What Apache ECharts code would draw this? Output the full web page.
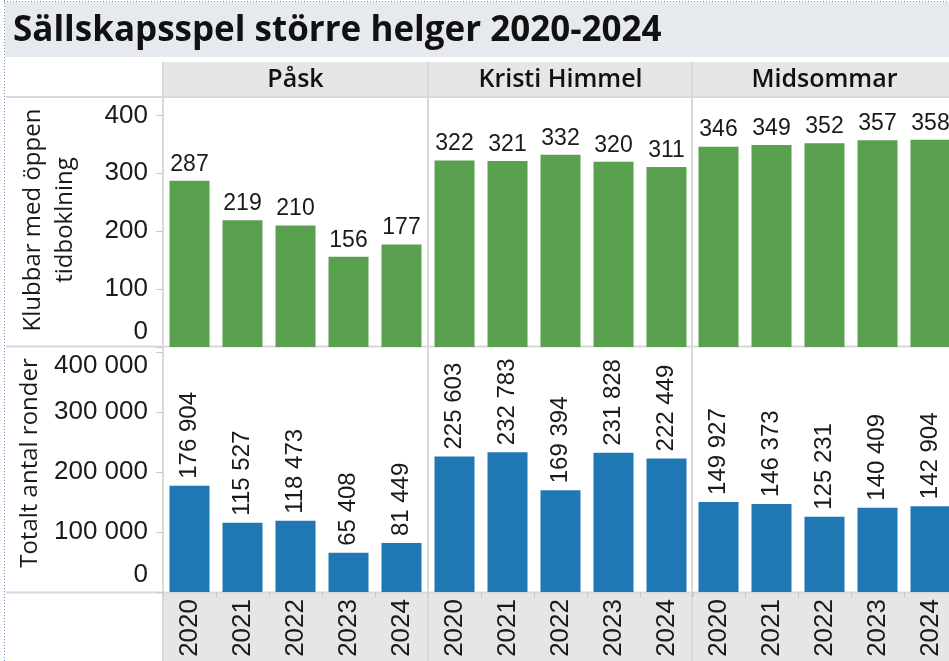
<!DOCTYPE html>
<html><head><meta charset="utf-8">
<script src="https://cdn.jsdelivr.net/npm/echarts@6/dist/echarts.min.js"></script>
<style>html,body{margin:0;padding:0;background:#fff}#c{width:949px;height:661px}</style>
</head><body><div id="c"></div>
<script>
const chartTitle = 'Sällskapsspel större helger 2020-2024';
const holidays = ['Påsk', 'Kristi Himmel', 'Midsommar'];
const years = ['2020', '2021', '2022', '2023', '2024'];
const measureNames = ['Klubbar med öppen\ntidboklning', 'Totalt antal ronder'];
const klubbarPask = [287, 219, 210, 156, 177];
const klubbarKristi = [322, 321, 332, 320, 311];
const klubbarMidsommar = [346, 349, 352, 357, 358];
const ronderPask = [176904, 115527, 118473, 65408, 81449];
const ronderKristi = [225603, 232783, 169394, 231828, 222449];
const ronderMidsommar = [149927, 146373, 125231, 140409, 142904];
const klubbarTicks = [0, 100, 200, 300, 400];
const ronderTicks = [0, 100000, 200000, 300000, 400000];

const rows = [
  { data: [klubbarPask, klubbarKristi, klubbarMidsommar], ticks: klubbarTicks, max: 430, color: '#59a14f' },
  { data: [ronderPask, ronderKristi, ronderMidsommar], ticks: ronderTicks, max: 408000, color: '#1f77b4' }
];

const colLeft = [163, 428, 692];
const colW = 265;
const rowTop = [98, 347];
const rowH = [249, 245];
const FONT = '"Liberation Sans", Arial, sans-serif';
const SANS = '"Open Sans", sans-serif';
const TXT = '#1a1a1a';

function fmt(v) { return String(v).replace(/\B(?=(\d{3})+(?!\d))/g, ' '); }

const grid = [], xAxis = [], yAxis = [], series = [];
rows.forEach((row, r) => {
  row.data.forEach((vals, c) => {
    const i = r * 3 + c;
    grid.push({ left: colLeft[c], top: rowTop[r], width: colW, height: rowH[r], containLabel: false, outerBoundsMode: 'none' });
    xAxis.push({
      type: 'category', gridIndex: i, data: years, z: 10,
      axisLine: { show: false },
      axisTick: { show: r === 1, length: 5, lineStyle: { color: '#c8c8c8' } },
      axisLabel: { show: r === 1, rotate: 90, interval: 0, fontSize: 26, margin: 7, color: TXT, fontFamily: FONT }
    });
    const lastTick = row.ticks[row.ticks.length - 1];
    yAxis.push({
      type: 'value', gridIndex: i, min: 0, max: row.max, z: 10,
      splitLine: { show: false }, axisLine: { show: false },
      axisTick: { show: c === 0, length: 7, customValues: row.ticks, lineStyle: { color: '#c8c8c8' } },
      axisLabel: {
        show: c === 0, customValues: row.ticks, margin: 15, fontSize: 26, color: TXT, fontFamily: FONT,
        formatter: v => v === 0 ? '{z|0}' : (v === lastTick && r === 1 ? '{t|' + fmt(v) + '}' : fmt(v)),
        rich: {
          z: { fontSize: 26, color: TXT, fontFamily: FONT, padding: r === 0 ? [0, 0, 30, 0] : [0, 0, 34, 0] },
          t: { fontSize: 26, color: TXT, fontFamily: FONT, padding: [28, 0, 0, 0] }
        }
      }
    });
    series.push({
      type: 'bar', xAxisIndex: i, yAxisIndex: i, data: vals, barWidth: 40,
      itemStyle: { color: row.color },
      label: r === 0
        ? { show: true, position: 'top', distance: 5, fontSize: 23, color: TXT, fontFamily: FONT, formatter: p => fmt(p.value) }
        : { show: true, position: 'top', rotate: 90, align: 'left', verticalAlign: 'middle', distance: 7, fontSize: 24, color: TXT, fontFamily: FONT, formatter: p => fmt(p.value) }
    });
  });
});

const lineC = '#d9d9d9';
const graphic = [
  { type: 'rect', z: -5, shape: { x: 5, y: 2, width: 944, height: 55 }, style: { fill: '#e6eaee' } },
  { type: 'line', z: 50, shape: { x1: 4.5, y1: 0, x2: 4.5, y2: 661 }, style: { stroke: '#6f95c8', lineWidth: 1, lineDash: [1, 2] } },
  { type: 'line', z: 50, shape: { x1: 4, y1: 1.5, x2: 949, y2: 1.5 }, style: { stroke: '#6f95c8', lineWidth: 1, lineDash: [1, 2] } },
  { type: 'text', z: 5, x: 13, y: 31, style: { text: chartTitle, font: 'bold 35px ' + SANS, fill: '#111', verticalAlign: 'middle' } },
  { type: 'rect', z: -5, shape: { x: 163, y: 62, width: 786, height: 35 }, style: { fill: '#e6e6e6' } },
  { type: 'rect', z: -5, shape: { x: 163, y: 593, width: 786, height: 68 }, style: { fill: '#e6e6e6' } },
  { type: 'line', z: -2, shape: { x1: 6, y1: 97, x2: 949, y2: 97 }, style: { stroke: lineC, lineWidth: 2 } },
  { type: 'line', z: -2, shape: { x1: 6, y1: 346.5, x2: 949, y2: 346.5 }, style: { stroke: lineC, lineWidth: 2 } },
  { type: 'line', z: -2, shape: { x1: 6, y1: 592.5, x2: 949, y2: 592.5 }, style: { stroke: lineC, lineWidth: 2 } }
];
colLeft.forEach(x => {
  graphic.push({ type: 'line', z: -2, shape: { x1: x, y1: 62, x2: x, y2: 661 }, style: { stroke: lineC, lineWidth: 2 } });
});
holidays.forEach((h, c) => {
  graphic.push({ type: 'text', z: 5, x: colLeft[c] + colW / 2, y: 80, style: { text: h, font: '600 25px ' + SANS, fill: '#111', align: 'center', verticalAlign: 'middle' } });
});
graphic.push({ type: 'text', z: 5, x: 49, y: 220, rotation: Math.PI / 2, style: { text: measureNames[0], font: '24px ' + SANS, fill: TXT, align: 'center', verticalAlign: 'middle', lineHeight: 32 } });
graphic.push({ type: 'text', z: 5, x: 30, y: 463, rotation: Math.PI / 2, style: { text: measureNames[1], font: '24px ' + SANS, fill: TXT, align: 'center', verticalAlign: 'middle' } });

const chart = echarts.init(document.getElementById('c'), null, { renderer: 'canvas' });
chart.setOption({ animation: false, grid, xAxis, yAxis, series, graphic });
</script>
</body></html>
